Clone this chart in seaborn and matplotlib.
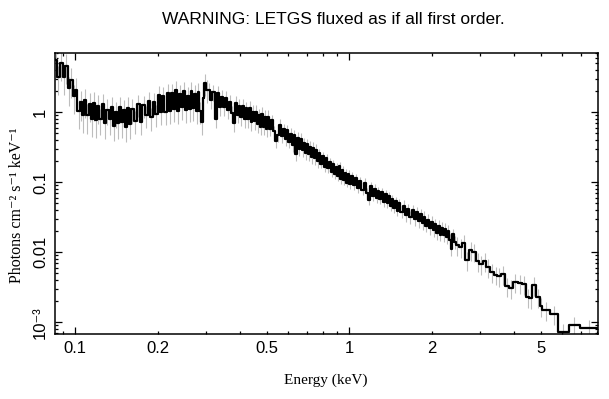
import numpy as np
import pandas as pd
import matplotlib
matplotlib.use('Agg')
import matplotlib.pyplot as plt
import seaborn as sns
from matplotlib.ticker import LogLocator, FuncFormatter, NullFormatter

# spectrum: bin low edges (keV) and flux per segment
energy_a = [0.084, 0.086, 0.088, 0.090, 0.092, 0.094, 0.096, 0.098, 0.100, 0.102,
            0.104, 0.106, 0.108, 0.110, 0.112, 0.114, 0.116, 0.118, 0.120]
flux_a = [5.6, 3.2, 5.0, 3.2, 4.6, 2.2, 2.9, 1.7, 2.1, 1.04,
          1.38, 0.92, 1.5, 0.9, 1.3, 0.8, 1.35, 0.78, 1.22]

energy_b = [0.1225, 0.125, 0.1275, 0.130, 0.1325, 0.135, 0.1375, 0.140, 0.1425, 0.145,
            0.1475, 0.150, 0.1525, 0.155, 0.1575, 0.160]
flux_b = [0.8, 1.32, 0.7, 1.09, 0.8, 1.19, 0.64, 0.99, 0.7, 1.17,
          0.72, 1.06, 0.62, 1.16, 0.68, 1.12]

energy_c = [0.164, 0.168, 0.172, 0.176, 0.180, 0.184, 0.188, 0.192, 0.196, 0.200,
            0.204, 0.208, 0.212, 0.216, 0.220, 0.224, 0.228, 0.232, 0.236, 0.240,
            0.244, 0.248, 0.252, 0.256, 0.260, 0.264, 0.268, 0.272, 0.276, 0.280,
            0.284, 0.288, 0.292, 0.296, 0.300]
flux_c = [0.76, 1.32, 0.73, 1.25, 0.9, 1.45, 0.84, 1.38, 0.94, 1.75,
          1.02, 1.68, 1.0, 1.9, 1.05, 1.85, 1.1, 2.05, 1.03, 1.8,
          1.2, 2.0, 1.07, 1.72, 1.1, 2.0, 1.15, 1.8, 1.05, 1.95,
          1.03, 0.72, 1.6, 2.6, 2.1]

energy_d = [0.305, 0.311, 0.317, 0.323, 0.329, 0.335, 0.341, 0.347, 0.353, 0.359,
            0.365, 0.371, 0.377, 0.383, 0.389, 0.395, 0.401, 0.407, 0.413, 0.419,
            0.425, 0.431, 0.437, 0.443, 0.449, 0.455, 0.461, 0.467, 0.473, 0.479,
            0.485, 0.491, 0.497, 0.503]
flux_d = [2.1, 1.49, 1.95, 0.8, 1.9, 1.18, 1.64, 1.19, 1.6, 1.07,
          1.4, 0.97, 0.7, 1.36, 0.92, 1.24, 0.84, 1.22, 0.8, 1.13,
          0.8, 1.15, 0.72, 1.01, 0.74, 1.01, 0.68, 0.9, 0.62, 0.94,
          0.62, 0.85, 0.58, 0.85]

energy_e = [0.510, 0.519, 0.528, 0.537, 0.546, 0.555, 0.564, 0.573, 0.582, 0.591,
            0.600, 0.609, 0.618, 0.627, 0.636, 0.645, 0.654, 0.663, 0.672, 0.681,
            0.690, 0.699, 0.708, 0.717, 0.726, 0.735, 0.744, 0.753, 0.762]
flux_e = [0.57, 0.77, 0.53, 0.39, 0.47, 0.66, 0.46, 0.57, 0.41, 0.55,
          0.38, 0.49, 0.34, 0.47, 0.25, 0.43, 0.3, 0.42, 0.29, 0.36,
          0.26, 0.35, 0.25, 0.32, 0.23, 0.31, 0.22, 0.29, 0.2]

energy_f = [0.774, 0.786, 0.798, 0.810, 0.822, 0.834, 0.846, 0.858, 0.870, 0.882,
            0.894, 0.906, 0.918, 0.930, 0.942, 0.954, 0.966, 0.978, 0.990, 1.002, 1.014]
flux_f = [0.26, 0.185, 0.234, 0.165, 0.222, 0.157, 0.194, 0.141, 0.183, 0.132,
          0.166, 0.121, 0.17, 0.11, 0.15, 0.107, 0.134, 0.099, 0.131, 0.095, 0.122]

energy_g = [1.03, 1.05, 1.07, 1.09, 1.11, 1.13, 1.15, 1.17, 1.19, 1.21,
            1.23, 1.25, 1.27, 1.29, 1.31, 1.33, 1.35, 1.37, 1.39, 1.41,
            1.43, 1.45, 1.47, 1.49, 1.51]
flux_g = [0.091, 0.114, 0.082, 0.103, 0.078, 0.099, 0.071, 0.056, 0.087, 0.064,
          0.081, 0.059, 0.075, 0.057, 0.072, 0.052, 0.067, 0.05, 0.063, 0.046,
          0.057, 0.043, 0.054, 0.039, 0.05]

energy_h = [1.54, 1.57, 1.60, 1.63, 1.66, 1.69, 1.72, 1.75, 1.78, 1.81,
            1.84, 1.87, 1.90, 1.93, 1.96, 1.99, 2.02, 2.05, 2.08, 2.11,
            2.14, 2.17, 2.20, 2.23, 2.26, 2.29, 2.32, 2.35, 2.38, 2.41]
flux_h = [0.038, 0.046, 0.034, 0.041, 0.032, 0.04, 0.03, 0.037, 0.028, 0.035,
          0.026, 0.032, 0.024, 0.029, 0.022, 0.027, 0.0205, 0.025, 0.019, 0.0237,
          0.0178, 0.0224, 0.0174, 0.0217, 0.0163, 0.0203, 0.0152, 0.011, 0.018, 0.0141]

energy_i = [2.45, 2.52, 2.59, 2.66, 2.74, 2.82, 2.90, 2.99, 3.08, 3.17,
            3.27, 3.37, 3.48, 3.60, 3.72, 3.85, 3.98, 4.12, 4.27, 4.42,
            4.55, 4.66, 4.80, 4.97, 5.06, 5.40, 5.78, 6.34, 6.95]
flux_i = [0.0125, 0.012, 0.0135, 0.0078, 0.0108, 0.0102, 0.0074, 0.0068, 0.0075, 0.0062,
          0.0052, 0.0048, 0.0046, 0.0049, 0.0033, 0.0031, 0.0038, 0.0036, 0.0035, 0.0023,
          0.0022, 0.0034, 0.0023, 0.0017, 0.0015, 0.0013, 0.00073, 0.0009, 0.00082]
energy_end = 8.1

# fractional error per segment
seg_err = [0.45, 0.4, 0.35, 0.25, 0.2, 0.15, 0.15, 0.2, 0.3]

segments = [(energy_a, flux_a), (energy_b, flux_b), (energy_c, flux_c),
            (energy_d, flux_d), (energy_e, flux_e), (energy_f, flux_f),
            (energy_g, flux_g), (energy_h, flux_h), (energy_i, flux_i)]

edges = np.concatenate([s[0] for s in segments] + [[energy_end]])
flux = np.concatenate([s[1] for s in segments])
rel = np.concatenate([np.full(len(s[1]), e) for s, e in zip(segments, seg_err)])
centers = np.sqrt(edges[:-1] * edges[1:])

spec = pd.DataFrame({'energy': edges, 'flux': np.append(flux, flux[-1])})

sns.set_style('ticks')
plt.rcParams['font.family'] = ['Liberation Sans', 'DejaVu Sans']
plt.rcParams['text.color'] = 'black'
serif = ['Liberation Serif', 'DejaVu Serif']

fig = plt.figure(figsize=(6.09, 3.99), dpi=100)
ax = fig.add_axes([55 / 609, 1 - 334 / 399, 543 / 609, 281 / 399])

# error bars first, then the stepped spectrum
ax.vlines(centers, flux * (1 - rel), flux * (1 + rel), color='#bdbdbd', lw=0.8, zorder=1)
sns.lineplot(data=spec, x='energy', y='flux', drawstyle='steps-post', estimator=None,
             sort=False, color='black', lw=1.6, ax=ax, zorder=2)

ax.set_xscale('log')
ax.set_yscale('log')
ax.set_xlim(0.0845, 8.1)
ax.set_ylim(6.8e-4, 7.0)

def xfmt(v, pos):
    lead = round(v / 10 ** np.floor(np.log10(v) + 1e-9), 3)
    if lead in (1, 2, 5):
        return ('%g' % v)
    return ''

ax.xaxis.set_major_locator(LogLocator(base=10))
ax.xaxis.set_minor_locator(LogLocator(base=10, subs=np.arange(2, 10)))
ax.xaxis.set_major_formatter(FuncFormatter(xfmt))
ax.xaxis.set_minor_formatter(FuncFormatter(xfmt))

ylabels = {1e-3: '10\u207b\u00b3', 1e-2: '0.01', 1e-1: '0.1', 1.0: '1'}
ax.yaxis.set_major_locator(LogLocator(base=10))
ax.yaxis.set_minor_locator(LogLocator(base=10, subs=np.arange(2, 10)))
ax.yaxis.set_major_formatter(FuncFormatter(lambda v, p: ylabels.get(float('%.0e' % v), '')))
ax.yaxis.set_minor_formatter(NullFormatter())

ax.tick_params(which='both', direction='in', top=True, right=True, width=0.9,
               labelsize=12, colors='black', pad=5)
ax.tick_params(which='major', length=5)
ax.tick_params(which='minor', length=2.5)
plt.setp(ax.get_yticklabels(), rotation=90, va='center')
for s in ax.spines.values():
    s.set_linewidth(1.1)
    s.set_color('black')

ax.set_xlabel('')
ax.set_ylabel('')
fig.text(326 / 609, 1 - 380 / 399, 'Energy (keV)', ha='center', va='center',
         family=serif, fontsize=11, color='black')
fig.text(17 / 609, 1 - 205 / 399, 'Photons cm\u207b\u00b2 s\u207b\u00b9 keV\u207b\u00b9',
         ha='center', va='center', rotation=90, family=serif, fontsize=11.5, color='black')
fig.text(333 / 609, 1 - 19 / 399, 'WARNING: LETGS fluxed as if all first order.',
         ha='center', va='center', fontsize=12.5, color='black')

fig.savefig('out.png', dpi=100)
